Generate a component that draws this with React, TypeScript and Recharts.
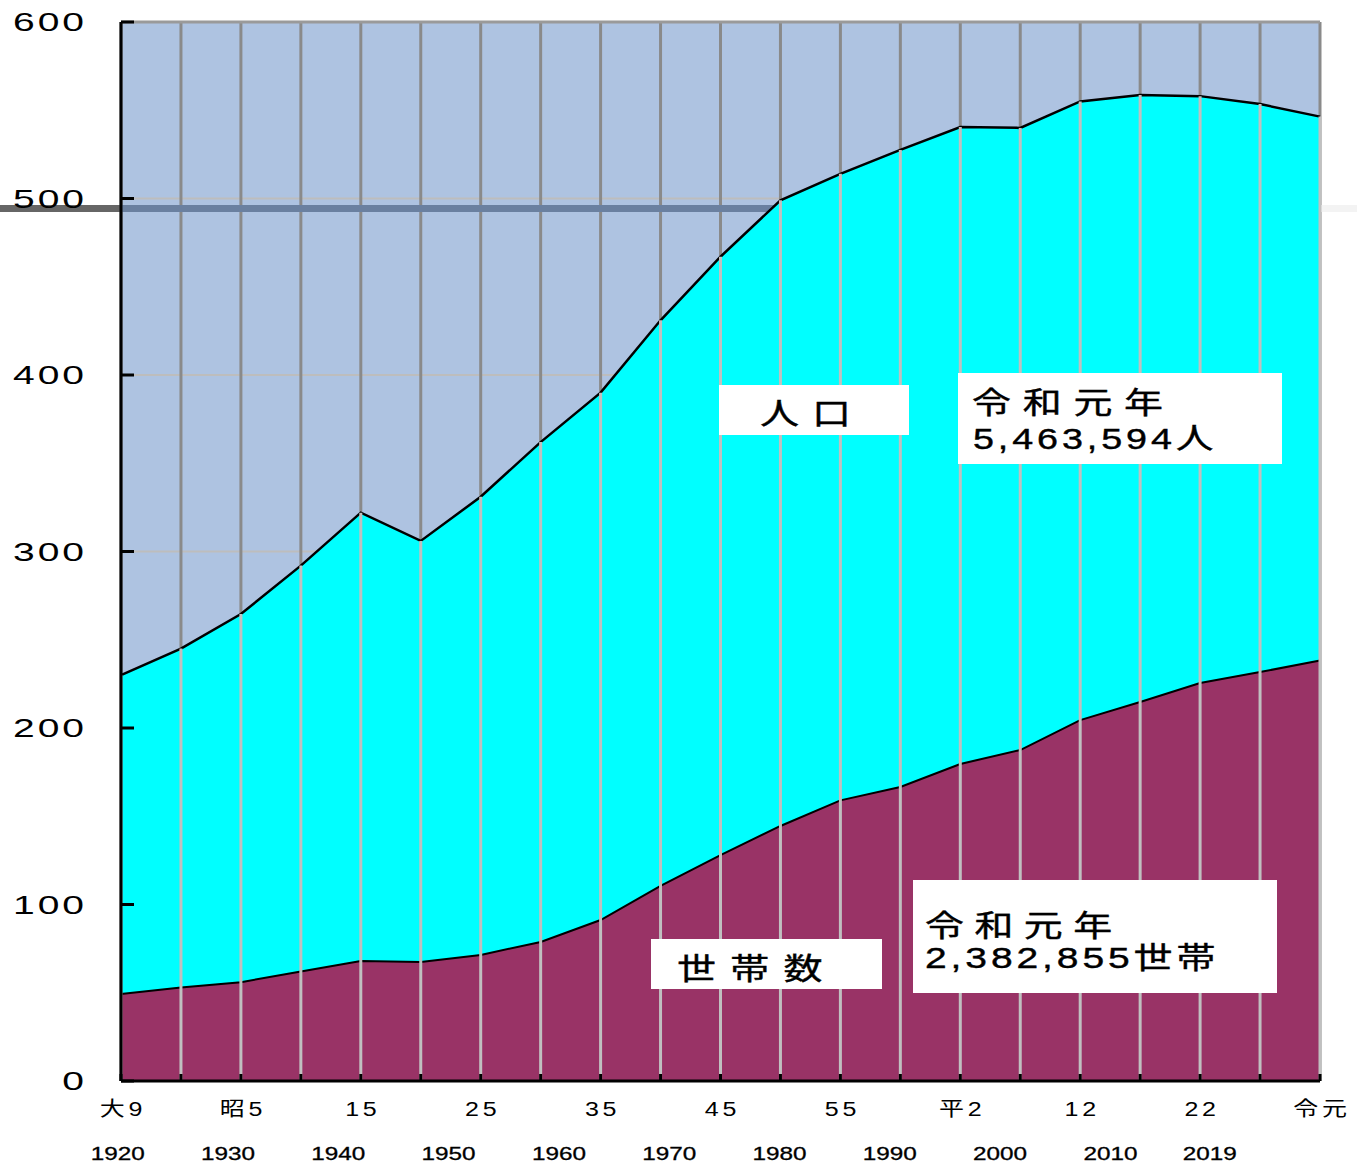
import { AreaChart, Area, XAxis, YAxis, CartesianGrid, ReferenceLine } from 'recharts';

// 5-year steps from 大正9年 to 令和元年
const years = [1920, 1925, 1930, 1935, 1940, 1945, 1950, 1955, 1960, 1965, 1970, 1975, 1980, 1985, 1990, 1995, 2000, 2005, 2010, 2015, 2019];
const eraLabels = ['大9', '', '昭5', '', '15', '', '25', '', '35', '', '45', '', '55', '', '平2', '', '12', '', '22', '', '令元'];
const yearTicks = [1920, 1930, 1940, 1950, 1960, 1970, 1980, 1990, 2000, 2010, 2019];

// 単位: 万
const population = [230, 245, 264.6, 292, 322, 306, 331, 362, 390, 431, 467, 499, 514, 527.5, 540.5, 540, 555, 558.6, 558, 553.5, 546.4];
const households = [49.3, 53, 56, 62, 68, 67.4, 71.4, 78.8, 91.2, 110.5, 128, 144.5, 159, 166.6, 179.6, 187.5, 204.5, 214.7, 225.5, 231.7, 238.3];

const yTicks = [0, 100, 200, 300, 400, 500, 600];

const data = years.map((year, i) => ({ year, pop: population[i], hh: households[i] }));

const W = 1357;
const H = 1164;
const latin = "'Liberation Sans', Arial, 'Noto Sans CJK JP', sans-serif";
const cjk = "'Noto Sans CJK JP', sans-serif";

function YTick({ x, y, payload }: any) {
  return (
    <text
      transform={`translate(${x},${y}) scale(1.5,1)`}
      textAnchor="end"
      dy="0.36em"
      fontSize={26}
      fontFamily={latin}
      style={{ letterSpacing: 2 }}
      fill="#000"
    >
      {payload.value}
    </text>
  );
}

function EraTick({ x, y, payload }: any) {
  const label = eraLabels[years.indexOf(payload.value)];
  if (!label) return null;
  return (
    <text
      transform={`translate(${x + 2},${y}) scale(1.25,1)`}
      y={35}
      textAnchor="middle"
      fontSize={20}
      fontFamily={latin}
      style={{ letterSpacing: 3 }}
      fill="#000"
    >
      {label}
    </text>
  );
}

function YearTick({ x, y, payload }: any) {
  return (
    <text
      transform={`translate(${x},${y}) scale(1.35,1)`}
      y={34}
      textAnchor="middle"
      fontSize={18}
      fontFamily={latin}
      stroke="#000"
      strokeWidth={0.3}
      fill="#000"
    >
      {payload.value}
    </text>
  );
}

// 500の少し下を横切る太い帯
function BandLine(p: any) {
  return (
    <g>
      <line x1={0} x2={p.x1} y1={p.y1} y2={p.y2} stroke="#666" strokeWidth={7} />
      <line x1={p.x1} x2={p.x2} y1={p.y1} y2={p.y2} stroke="#6a80a0" strokeWidth={7} />
      <line x1={p.x2} x2={W} y1={p.y1} y2={p.y2} stroke="#f3f3f3" strokeWidth={7} />
    </g>
  );
}

function Note({ x, y, size, spacing, font, children }: any) {
  return (
    <text
      transform={`translate(${x},${y}) scale(1.3,1)`}
      fontSize={size}
      fontFamily={font}
      style={{ letterSpacing: spacing }}
      stroke="#000"
      strokeWidth={0.4}
      fill="#000"
    >
      {children}
    </text>
  );
}

function Notes() {
  return (
    <svg width={W} height={H} style={{ position: 'absolute', left: 0, top: 0, pointerEvents: 'none' }}>
      <rect x={719} y={385} width={190} height={50} fill="#fff" />
      <Note x={760} y={424} size={30} spacing={10} font={cjk}>人口</Note>

      <rect x={958} y={373} width={324} height={91} fill="#fff" />
      <Note x={972} y={413} size={30} spacing={9} font={cjk}>令和元年</Note>
      <Note x={973} y={449} size={29} spacing={3} font={latin}>5,463,594人</Note>

      <rect x={651} y={939} width={231} height={50} fill="#fff" />
      <Note x={677} y={979} size={30} spacing={11} font={cjk}>世帯数</Note>

      <rect x={913} y={880} width={364} height={113} fill="#fff" />
      <Note x={925} y={936} size={30} spacing={8} font={cjk}>令和元年</Note>
      <Note x={925} y={968} size={30} spacing={3} font={latin}>2,382,855世帯</Note>
    </svg>
  );
}

export default function App() {
  return (
    <div style={{ position: 'relative', width: W, height: H, background: '#fff' }}>
      <style>{'body{margin:0}'}</style>
      <AreaChart width={W} height={H} data={data} margin={{ top: 22, right: 37, left: 0, bottom: 0 }}>
        <CartesianGrid vertical={false} stroke="#bdbdbd" strokeWidth={2} fill="#aec3e1" />
        <CartesianGrid horizontal={false} stroke="#8a8a8a" strokeWidth={3} />
        <ReferenceLine y={600} stroke="#9a9a9a" strokeWidth={3} />
        <ReferenceLine y={494.3} shape={BandLine} zIndex={50} />
        <Area
          type="linear"
          dataKey="pop"
          stroke="#000"
          strokeWidth={2.5}
          fill="#00ffff"
          fillOpacity={1}
          dot={false}
          activeDot={false}
          isAnimationActive={false}
        />
        <Area
          type="linear"
          dataKey="hh"
          stroke="#000"
          strokeWidth={2}
          fill="#993366"
          fillOpacity={1}
          dot={false}
          activeDot={false}
          isAnimationActive={false}
        />
        {years.map((yr, i) => (
          <ReferenceLine
            key={yr}
            segment={[{ x: yr, y: 0 }, { x: yr, y: population[i] }]}
            stroke="#c0c0c0"
            strokeWidth={3}
            zIndex={400}
          />
        ))}
        <XAxis
          dataKey="year"
          type="category"
          height={45}
          interval={0}
          axisLine={{ stroke: '#000', strokeWidth: 3 }}
          tickLine={{ stroke: '#000', strokeWidth: 3 }}
          tickSize={-7}
          tickMargin={7}
          tick={<EraTick />}
        />
        <XAxis
          xAxisId="yr"
          dataKey="year"
          type="number"
          domain={[1920.3, 2029]}
          allowDataOverflow
          ticks={yearTicks}
          height={38}
          axisLine={false}
          tickLine={false}
          tickSize={0}
          tickMargin={0}
          tick={<YearTick />}
        />
        <YAxis
          domain={[0, 600]}
          ticks={yTicks}
          width={121}
          interval={0}
          axisLine={{ stroke: '#000', strokeWidth: 3 }}
          tickLine={{ stroke: '#000', strokeWidth: 3 }}
          tickSize={-13}
          tickMargin={47}
          tick={<YTick />}
        />
      </AreaChart>
      <Notes />
    </div>
  );
}
